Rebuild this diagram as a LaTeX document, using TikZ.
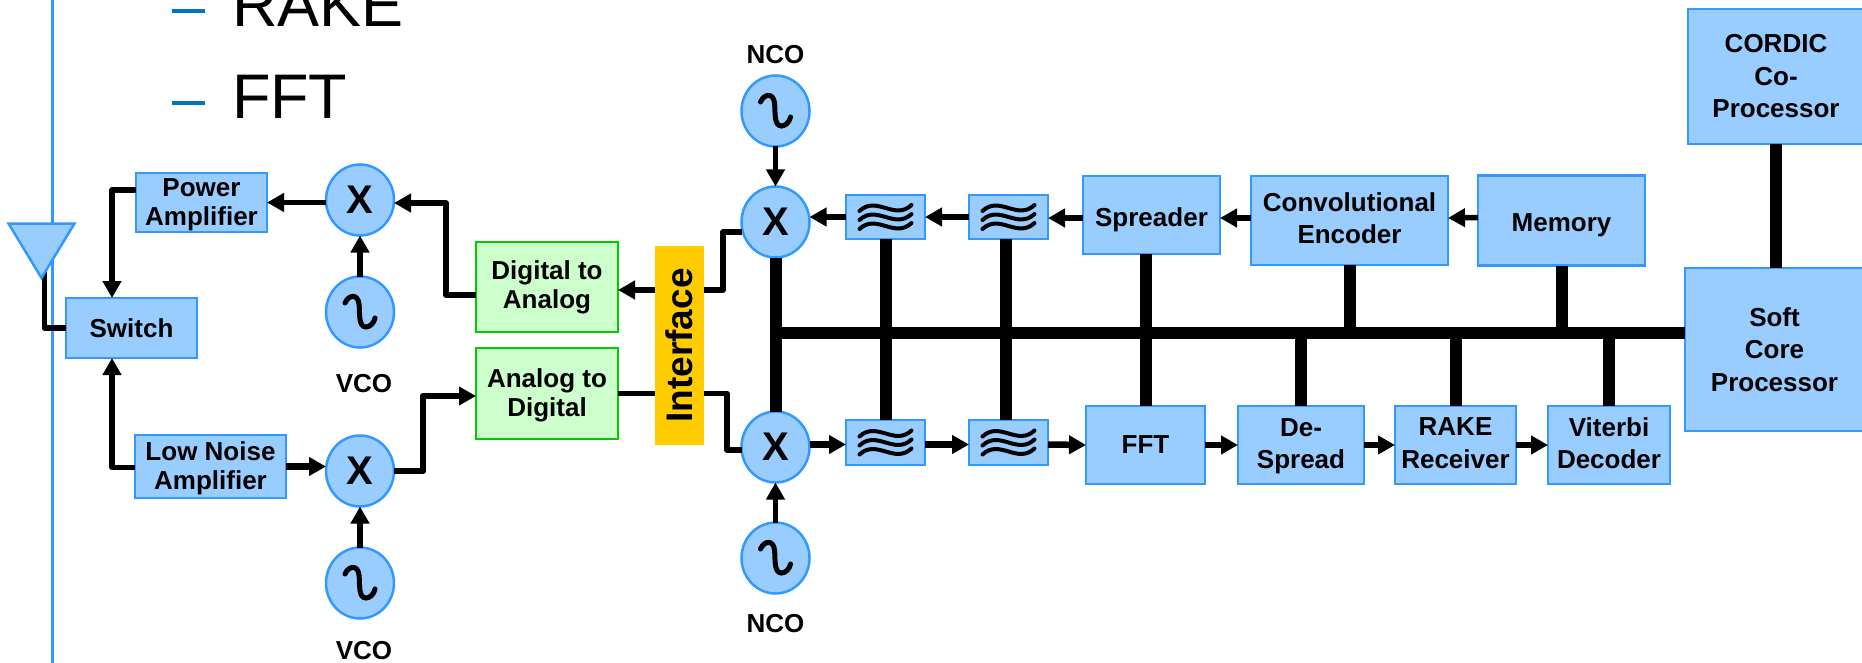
\documentclass[tikz,border=0pt]{standalone}
\usepackage{fontspec}
\setmainfont{Liberation Sans}
\usetikzlibrary{positioning,arrows.meta,shapes.geometric}
\definecolor{blue1}{HTML}{3399FF}
\definecolor{blue2}{HTML}{99CCFF}
\definecolor{green1}{HTML}{00CC00}
\definecolor{green2}{HTML}{CCFFCC}
\definecolor{dash1}{HTML}{0077BB}
\definecolor{yellow1}{HTML}{FFCC00}

\begin{document}
\begin{tikzpicture}[x=1pt,y=-1pt,
	bl/.style={rectangle, draw=blue1, fill=blue2, line width=2.5pt, inner sep=0pt, outer sep=0pt, align=center, font=\fontsize{26}{32.5}\selectfont\bfseries},
	bs/.style={bl, font=\fontsize{26}{29}\selectfont\bfseries},
	gr/.style={bs, draw=green1, fill=green2},
	sz/.style 2 args={minimum width=#1, minimum height=#2},
	mx/.style={ellipse, draw=blue1, fill=blue2, line width=2.5pt, inner sep=0pt, outer sep=0pt, minimum width=68pt, minimum height=71pt, font=\fontsize{40}{40}\selectfont\bfseries},
	lb/.style={inner sep=0pt, outer sep=0pt, font=\fontsize{26}{29}\selectfont\bfseries},
	big/.style={inner sep=0pt, outer sep=0pt, anchor=base west, font=\fontsize{63}{63}\selectfont},
	wire/.style={line width=5.5pt, line join=round, -{Triangle[length=17pt,width=18pt]}},
	thick wire/.style={wire, line width=6.5pt},
	plain/.style={line width=5.5pt, line join=round},
	bus/.style={line width=12pt},
	glyph/.style={line width=4pt, line cap=round},
	bul/.style={draw=dash1, line width=4pt}
	]
	\path[use as bounding box, clip] (0,0) rectangle (1862,663);

	\draw[blue1, line width=3pt] (52,-5) -- (52,670);
	\draw[bul] (172,11) -- (205,11);
	\draw[bul] (172,103) -- (205,103);
	\node[big] (rk) at (232,27) {RAKE};
	\node[big] (ff) at (232,119) {FFT};

	% left side
	\node[mx] (mxa) at (360,200) {X};
	\node[mx] (osca) [below=41pt of mxa] {};
	\node[mx] (mxb) [below=88pt of osca] {X};
	\node[mx] (oscb) [below=41pt of mxb] {};
	\node[bs, sz={131pt}{59pt}, text depth=0pt] (pa) [left=59pt of mxa, yshift=-2.5pt] {Power\\Amplifier};
	\node[bs, sz={151pt}{63pt}, text depth=2pt] (lna) [left=40pt of mxb, yshift=4.5pt] {Low Noise\\Amplifier};
	\node[bs, sz={131pt}{60pt}] (sw) at (131.5,328) {Switch};
	\node[lb] (vcoa) [below=26.5pt of osca, xshift=4pt] {VCO};
	\node[lb] (vcob) [below=23pt of oscb, xshift=4pt] {VCO};
	\node[gr, sz={142pt}{90pt}] (da) at (547,287) {Digital to\\Analog};
	\node[gr, sz={142pt}{91pt}, text depth=1pt] (ad) [below=16pt of da] {Analog to\\Digital};
	\node[rectangle, fill=yellow1, sz={49pt}{199pt}, inner sep=0pt, outer sep=0pt] (ifc) at (679.5,345.5) {};
	\node[lb, font=\fontsize{37}{37}\selectfont\bfseries, rotate=90] (ifct) at (ifc.center) {Interface};

	% upper row
	\node[bl, sz={137pt}{78pt}, text height=23pt, text depth=0pt] (spr) at (1151.5,215) {Spreader};
	\node[bl, sz={197pt}{89pt}, text depth=5pt] (conv) [right=31pt of spr, yshift=-5.5pt] {Convolutional\\Encoder};
	\node[bl, sz={167pt}{90pt}, text height=22pt, text depth=0pt] (mem) [right=30pt of conv] {Memory};
	\node[bl, sz={79pt}{44pt}] (fb) [left=35pt of spr, yshift=-2pt] {};
	\node[bl, sz={79pt}{44pt}] (fa) [left=44pt of fb] {};
	\node[mx] (mu) [left=36.5pt of fa, yshift=-5pt] {X};
	\node[mx] (nu) [above=40pt of mu] {};
	\node[lb] (ncoa) [above=11.5pt of nu] {NCO};

	% lower row
	\node[bl, sz={79pt}{45pt}] (fc) [below=181pt of fa] {};
	\node[bl, sz={79pt}{45pt}] (fd) [right=44pt of fc] {};
	\node[mx] (ml) [left=36.5pt of fc, yshift=-4.5pt] {X};
	\node[mx] (nl) [below=40pt of ml] {};
	\node[lb] (ncob) [below=20.5pt of nl] {NCO};
	\node[bl, sz={119pt}{78pt}] (fft) [right=38pt of fd, yshift=-2.5pt] {FFT};
	\node[bl, sz={126pt}{78pt}, text depth=3pt] (dsp) [right=33pt of fft] {De-\\Spread};
	\node[bl, sz={121pt}{78pt}, text depth=4pt] (rk2) [right=31pt of dsp] {RAKE\\Receiver};
	\node[bl, sz={122pt}{78pt}, text depth=4pt] (vit) [right=32pt of rk2] {Viterbi\\Decoder};

	% right side
	\node[bl, sz={179pt}{163pt}] (soft) at (1774.5,349.5) {Soft\\Core\\Processor};
	\node[bl, sz={176pt}{135pt}] (cor) [above=124pt of soft, xshift=1.5pt] {CORDIC\\Co-\\Processor};

	\coordinate (busr) at ([yshift=16.5pt]soft.west);
	\draw[bus] (mu.south) -- (ml.north);
	\draw[bus] (busr) -- (busr -| mu.south);
	\draw[bus] (fa.south) -- (fc.north);
	\draw[bus] ([xshift=-2.5pt]fb.south) -- ([xshift=-2.5pt]fd.north);
	\draw[bus] (fft.north |- spr.south) -- (fft.north);
	\draw[bus] (conv.south) -- (conv.south |- busr);
	\draw[bus] (mem.south) -- (mem.south |- busr);
	\draw[bus] (dsp.north) -- (dsp.north |- busr);
	\draw[bus] (rk2.north) -- (rk2.north |- busr);
	\draw[bus] (vit.north) -- (vit.north |- busr);
	\draw[bus] (cor.south) -- (cor.south |- soft.north);

	% left side wires
	\draw[wire] (mxa.west |- pa.east) -- (pa.east);
	\draw[wire] ([yshift=-8pt]da.west) -- ++(-30,0) |- ([yshift=-3pt]mxa.east);
	\draw[wire] (osca.north) -- (mxa.south);
	\draw[wire] (oscb.north) -- (mxb.south);
	\draw[wire] ([yshift=12.5pt]pa.west) -| ([xshift=-19.5pt]sw.north);
	\draw[wire] ([yshift=-1pt]lna.west) -| ([xshift=-19.5pt]sw.south);
	\draw[thick wire] (lna.east) -- (lna.east -| mxb.west);
	\draw[thick wire] (mxb.east) -- ++(29,0) |- ([yshift=-2.5pt]ad.west);
	\coordinate (anta) at (44.5,265);
	\draw[plain] (anta) |- (sw.west);
	\draw[draw=blue1, fill=blue2, line width=2.5pt] (8.5,223.5) -- (74.5,223.5) -- (41.5,278) -- cycle;

	% interface wires
	\coordinate (ifu) at ([yshift=55.5pt]ifc.east);
	\coordinate (ifv) at ([yshift=55.5pt]ifc.west);
	\draw[wire] (ifv) -- (ifv -| da.east);
	\draw[plain] (ad.east) -- (ad.east -| ifc.west);
	\draw[plain] (ifu) -- ++(19,0) |- ([yshift=-10pt]mu.west);
	\draw[plain] (ifc.east |- ad.east) -- ++(23,0) |- ([yshift=-3pt]ml.west);

	% signal chain
	\draw[wire] (nu.south) -- (mu.north);
	\draw[wire] (nl.north) -- (ml.south);
	\draw[wire] (fa.west) -- (mu.east |- fa.west);
	\draw[wire] (fb.west) -- (fa.east);
	\draw[wire] ([yshift=-3pt]spr.west) -- ([yshift=-1pt]fb.east);
	\draw[wire] ([yshift=2.5pt]conv.west) -- ([yshift=-3pt]spr.east);
	\draw[wire] ([yshift=3pt]mem.west) -- ([yshift=2.5pt]conv.east);
	\draw[thick wire] (ml.east |- fc.west) ++(0,2) -- ([yshift=-2pt]fc.west);
	\draw[thick wire] ([yshift=-2pt]fc.east) -- ([yshift=-2pt]fd.west);
	\draw[thick wire] ([yshift=-2pt]fd.east) -- (fft.west);
	\draw[thick wire] (fft.east) -- (dsp.west);
	\draw[thick wire] (dsp.east) -- (rk2.west);
	\draw[thick wire] (rk2.east) -- (vit.west);

	\foreach \o in {osca,oscb,nu,nl}
		\draw[line width=5pt, line cap=round, shift={(\o.center)}] (-15,-9) .. controls (-11,-18) and (-2,-18) .. (-1,-8) .. controls (0,0) and (-2,15) .. (6,15) .. controls (10,15) and (14,11) .. (15,6);
	\foreach \f in {fa,fb,fc,fd}
		\foreach \d in {-9,0,9}
			\draw[glyph, shift={(\f.center)}] (-26,\d+3) .. controls (-9,\d-13) and (9,\d+13) .. (26,\d-3);

\end{tikzpicture}
\end{document}
